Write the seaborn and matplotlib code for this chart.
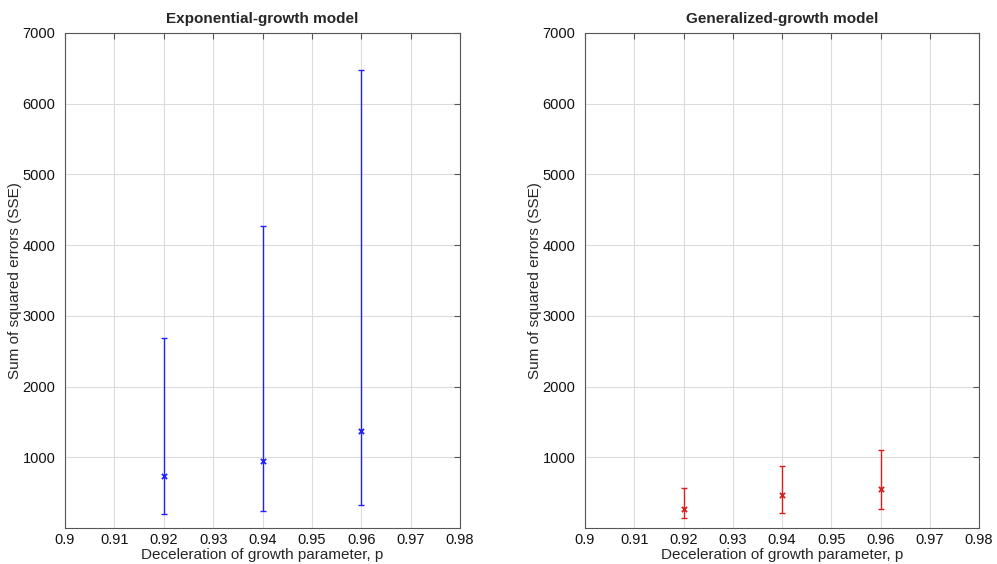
import numpy as np
import pandas as pd
import matplotlib
matplotlib.use("Agg")
import matplotlib.pyplot as plt
import seaborn as sns

p_values = [0.92, 0.94, 0.96]
exp_mean = [730, 950, 1366]
exp_low = [198, 240, 330]
exp_high = [2690, 4270, 6470]
gen_mean = [273, 466, 546]
gen_low = [146, 216, 273]
gen_high = [565, 871, 1106]
titles = ["Exponential-growth model", "Generalized-growth model"]
xticks = [0.9, 0.91, 0.92, 0.93, 0.94, 0.95, 0.96, 0.97, 0.98]
yticks = [1000, 2000, 3000, 4000, 5000, 6000, 7000]

sns.set_style("white")
plt.rcParams['font.family'] = ['Liberation Sans', 'DejaVu Sans']

fig = plt.figure(figsize=(9.97, 5.64), dpi=100)
ax1 = fig.add_axes([0.0652, 0.0638, 0.3962, 0.8777])
ax2 = fig.add_axes([0.5868, 0.0638, 0.3952, 0.8777])

for ax, title, mean, low, high, color in [
    (ax1, titles[0], exp_mean, exp_low, exp_high, "#2020ff"),
    (ax2, titles[1], gen_mean, gen_low, gen_high, "#d62020"),
]:
    df = pd.DataFrame({"p": p_values, "sse": mean, "low": low, "high": high})
    yerr = np.array([df["sse"] - df["low"], df["high"] - df["sse"]])
    ax.errorbar(df["p"], df["sse"], yerr=yerr, fmt="none", ecolor=color,
                elinewidth=1.0, capsize=2.5, capthick=1.0, zorder=3)
    sns.scatterplot(data=df, x="p", y="sse", ax=ax, marker="x", color=color,
                    s=14, linewidth=1.3, zorder=4)
    ax.set_xlim(0.9, 0.98)
    ax.set_ylim(0, 7000)
    ax.set_xticks(xticks)
    ax.set_xticklabels([f"{v:g}" for v in xticks])
    ax.set_yticks(yticks)
    ax.grid(True, color="#dcdcdc", linewidth=0.8)
    ax.set_axisbelow(True)
    for s in ax.spines.values():
        s.set_visible(True)
        s.set_color("#555555")
        s.set_linewidth(0.8)
    ax.tick_params(direction="in", length=4, labelsize=10.5, top=True, right=True,
                   color="#555555", labelcolor="#111111")
    ax.tick_params(axis="y", pad=7)
    ax.set_title(title, fontsize=11, fontweight="bold", pad=7)
    ax.set_xlabel("Deceleration of growth parameter, p", fontsize=11, labelpad=1)
    ax.set_ylabel("Sum of squared errors (SSE)", fontsize=11, labelpad=0)

fig.savefig("out.png", dpi=100, facecolor="white")
